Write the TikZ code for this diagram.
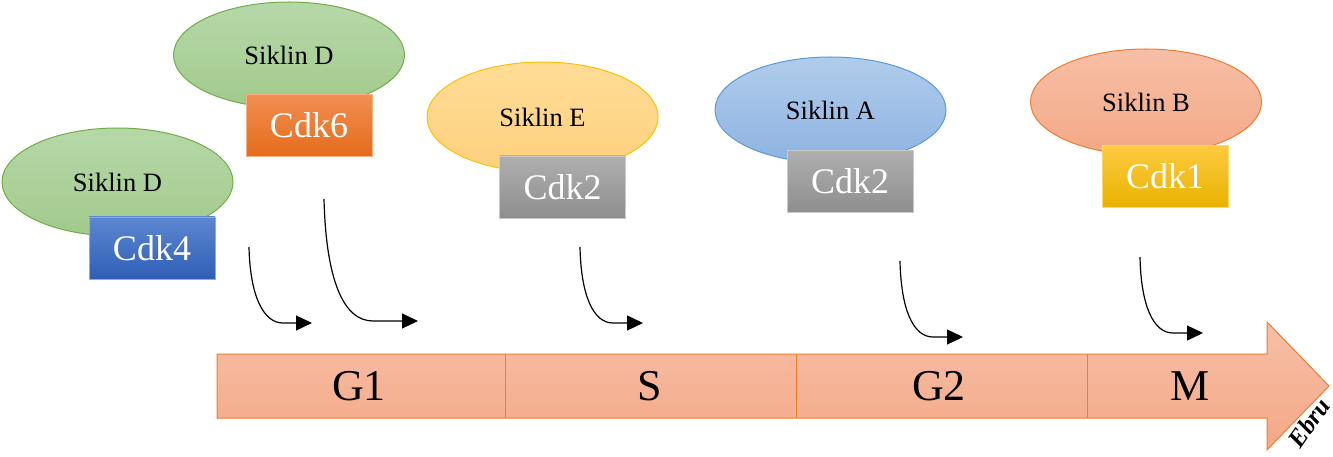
\documentclass[tikz,border=0pt]{standalone}
\usepackage{fontspec}
\setmainfont{Liberation Serif}
\usetikzlibrary{arrows.meta,shapes.geometric}
\definecolor{greenT}{HTML}{B6D8A9}
\definecolor{greenB}{HTML}{A2CA8C}
\definecolor{greenL}{HTML}{70AD47}
\definecolor{yelT}{HTML}{FFDC96}
\definecolor{yelB}{HTML}{FDD17E}
\definecolor{yelL}{HTML}{FFC000}
\definecolor{bluT}{HTML}{B0CCEB}
\definecolor{bluB}{HTML}{8EB3E2}
\definecolor{bluL}{HTML}{5B9BD5}
\definecolor{salT}{HTML}{F7BFA7}
\definecolor{salB}{HTML}{F4A886}
\definecolor{salL}{HTML}{ED7D31}
\definecolor{c4T}{HTML}{5C87D1}
\definecolor{c4B}{HTML}{2F5EB5}
\definecolor{c4L}{HTML}{8FAADC}
\definecolor{c6T}{HTML}{F28E52}
\definecolor{c6B}{HTML}{E56C1B}
\definecolor{c6L}{HTML}{F4B183}
\definecolor{c2T}{HTML}{AFAFAF}
\definecolor{c2B}{HTML}{8E8E8E}
\definecolor{c2L}{HTML}{C9C9C9}
\definecolor{c1T}{HTML}{FFCA40}
\definecolor{c1B}{HTML}{E7B300}
\definecolor{c1L}{HTML}{FFD966}
\begin{document}
\begin{tikzpicture}[x=1pt,y=-1pt,
  cyc/.style={ellipse, minimum width=231pt, minimum height=108pt, line width=1pt,
    font=\fontsize{26.5}{30}\selectfont, inner sep=0pt},
  cdk/.style={rectangle, minimum width=126pt, minimum height=62pt, line width=0.8pt,
    text=white, font=\fontsize{36}{42}\selectfont, inner sep=0pt},
  flow/.style={line width=1.2pt, -{Triangle[length=16pt,width=15pt]}},
  phase/.style={font=\fontsize{44}{50}\selectfont, inner sep=0pt},
  divider/.style={draw=salL, line width=1pt}
]
\useasboundingbox (0,0) rectangle (1333,457);

% Cyclin D / Cdk4
\node[cyc, draw=greenL, top color=greenT, bottom color=greenB] (d1) at (117.5,182) {Siklin D};
\node[cdk, draw=c4L, top color=c4T, bottom color=c4B] (cdk4) at (152,248) {Cdk4};
% Cyclin D / Cdk6
\node[cyc, minimum height=106pt, draw=greenL, top color=greenT, bottom color=greenB] (d2) at (289,55) {Siklin D};
\node[cdk, draw=c6L, top color=c6T, bottom color=c6B] (cdk6) at (309,125.5) {Cdk6};
% Cyclin E / Cdk2
\node[cyc, minimum height=110pt, draw=yelL, top color=yelT, bottom color=yelB] (e) at (542.5,117) {Siklin E};
\node[cdk, draw=c2L, top color=c2T, bottom color=c2B] (cdk2a) at (562.5,187) {Cdk2};
% Cyclin A / Cdk2
\node[cyc, minimum height=106pt, draw=bluL, top color=bluT, bottom color=bluB] (a) at (830.5,110) {\raisebox{-3pt}{Siklin A}};
\node[cdk, draw=c2L, top color=c2T, bottom color=c2B] (cdk2b) at (850,181.5) {Cdk2};
% Cyclin B / Cdk1
\node[cyc, minimum height=106pt, draw=salL, top color=salT, bottom color=salB] (b) at (1146,102) {\raisebox{-5pt}{Siklin B}};
\node[cdk, draw=c1L, top color=c1T, bottom color=c1B] (cdk1) at (1165,176.5) {Cdk1};

% big arrow
\path[draw=salL, line width=1pt, top color=salT, bottom color=salB]
  (217,354) -- (1267,354) -- (1267,322) -- (1329,386) -- (1267,450) -- (1267,418) -- (217,418) -- cycle;
\draw[divider] (505,354) -- (505,418);
\draw[divider] (796,354) -- (796,418);
\draw[divider] (1087,354) -- (1087,418);
\node[phase] (g1) at (359,386) {G1};
\node[phase] (s) at (650,386) {S};
\node[phase] (g2) at (939,386) {G2};
\node[phase] (m) at (1190,386) {M};

% curved arrows
\coordinate (a1s) at (249,247); \coordinate (a1c) at (283,323); \coordinate (a1e) at (312,323);
\coordinate (a2s) at (324,199); \coordinate (a2c) at (373,321); \coordinate (a2e) at (418,321);
\coordinate (a3s) at (580,247); \coordinate (a3c) at (613,323); \coordinate (a3e) at (643,323);
\coordinate (a4s) at (900,261); \coordinate (a4c) at (933,337); \coordinate (a4e) at (963,337);
\coordinate (a5s) at (1140,257); \coordinate (a5c) at (1173,333); \coordinate (a5e) at (1203,333);
\draw[flow] (a1s) .. controls +(1,48) and +(-20,0) .. (a1c) -- (a1e);
\draw[flow] (a2s) .. controls +(2,80) and +(-30,0) .. (a2c) -- (a2e);
\draw[flow] (a3s) .. controls +(1,48) and +(-20,0) .. (a3c) -- (a3e);
\draw[flow] (a4s) .. controls +(1,48) and +(-20,0) .. (a4c) -- (a4e);
\draw[flow] (a5s) .. controls +(1,48) and +(-20,0) .. (a5c) -- (a5e);

% signature
\node[rotate=55, font=\bfseries\itshape\fontsize{25}{27}\selectfont, inner sep=0pt] (sig) at (1309,423) {Ebru};
\end{tikzpicture}
\end{document}
